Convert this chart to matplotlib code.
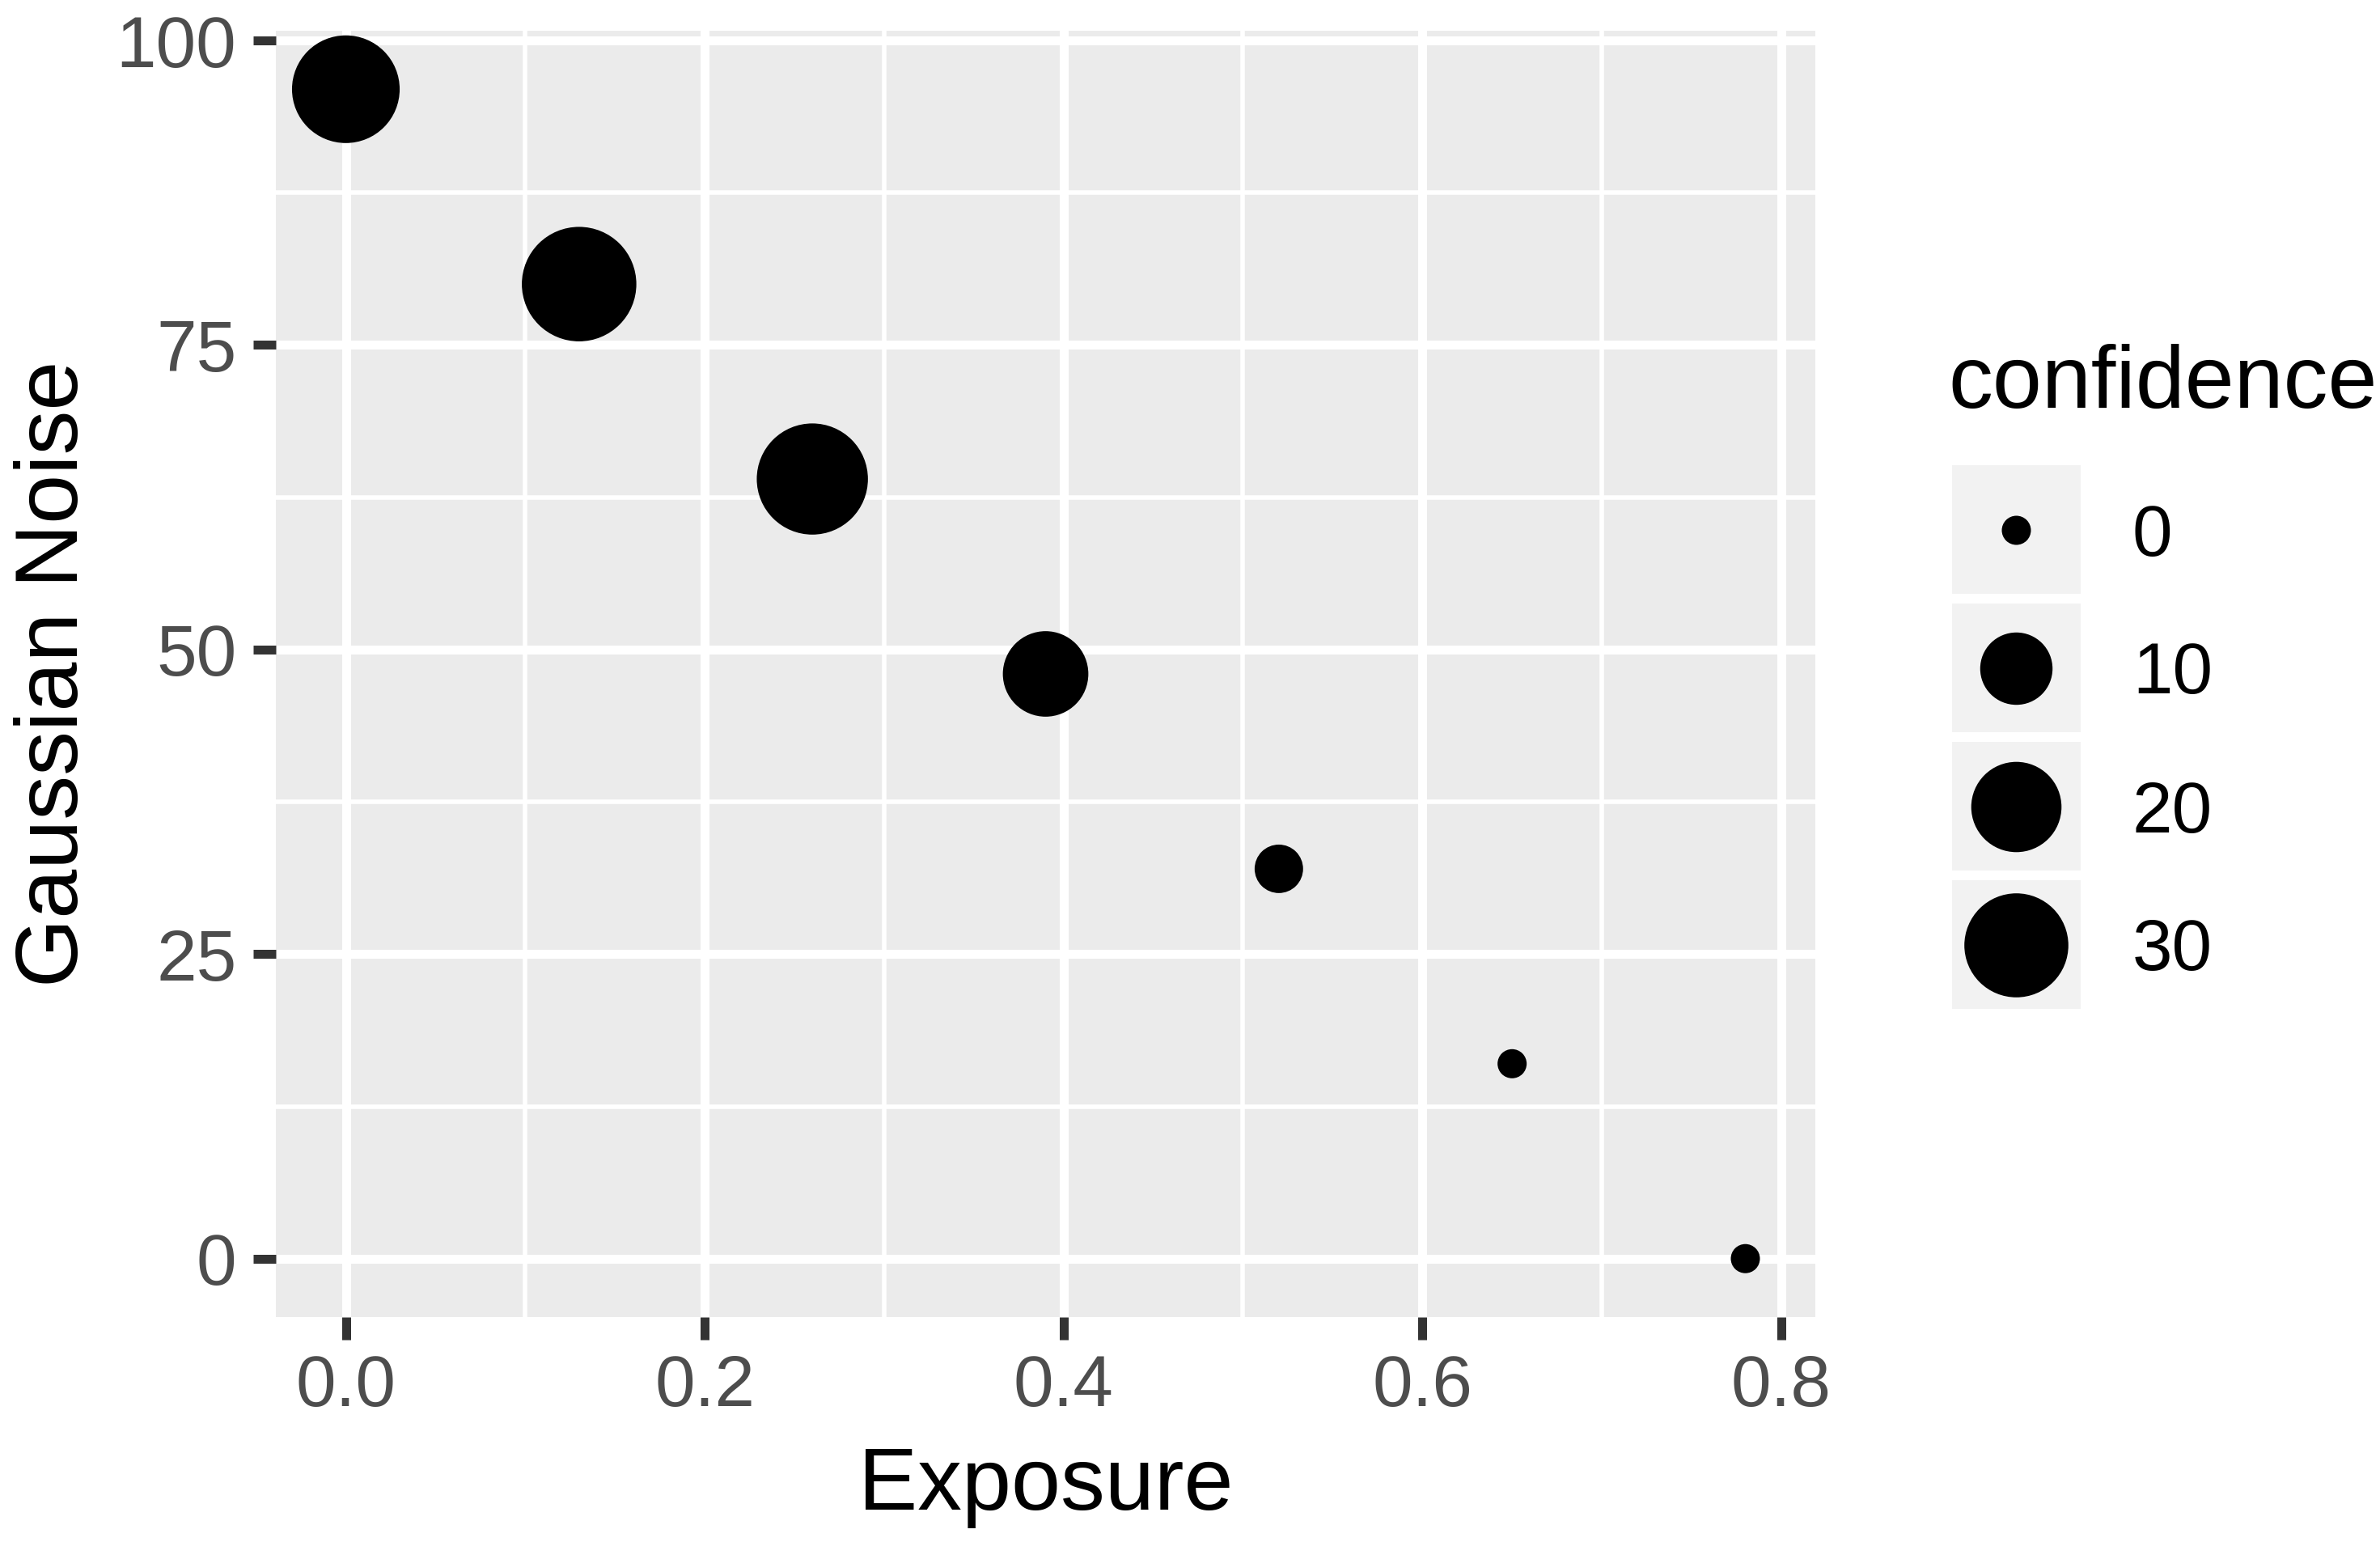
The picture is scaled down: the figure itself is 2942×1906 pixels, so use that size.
import numpy as np
import matplotlib
matplotlib.use("Agg")
import matplotlib.pyplot as plt
from matplotlib.patches import Rectangle

plt.rcParams['font.family'] = ['Liberation Sans', 'DejaVu Sans']

# data
exposure = [0.0, 0.13, 0.26, 0.39, 0.52, 0.65, 0.78]
noise = [96, 80, 64, 48, 32, 16, 0]
confidence = [33, 39, 36, 17, 2, 0, 0]
legend_breaks = [0, 10, 20, 30]
x_ticks = [0.0, 0.2, 0.4, 0.6, 0.8]
y_ticks = [0, 25, 50, 75, 100]

W, H, DPI = 2942, 1906, 300
PANEL = "#EBEBEB"
KEY_BG = "#F2F2F2"
TICK_C = "#333333"
LABEL_C = "#4D4D4D"
major_lw = 2.64
minor_lw = 1.32
title_fs = 26.3
label_fs = 21.4

def size_of(v):
    # ggplot-like area scale: diameter grows with sqrt(value); returns scatter s (pt^2)
    d_px = 36 + 16.9 * np.sqrt(np.asarray(v, dtype=float))
    d_pt = d_px * 72 / DPI
    return d_pt ** 2

fig = plt.figure(figsize=(W / DPI, H / DPI), dpi=DPI)
fig.patch.set_facecolor("white")

# panel in pixel coords
left, right, top, bottom = 341, 2244, 38, 1628
ax = fig.add_axes([left / W, 1 - bottom / H, (right - left) / W, (bottom - top) / H])
ax.set_facecolor(PANEL)
for s in ax.spines.values():
    s.set_visible(False)

xr = max(exposure) - min(exposure)
yr = max(noise) - min(noise)
ax.set_xlim(min(exposure) - 0.05 * xr, max(exposure) + 0.05 * xr)
ax.set_ylim(min(noise) - 0.05 * yr, max(noise) + 0.05 * yr)

ax.set_xticks(x_ticks)
ax.set_xticklabels(["%.1f" % t for t in x_ticks])
ax.set_yticks(y_ticks)
ax.set_yticklabels([str(t) for t in y_ticks])
ax.set_xticks([0.1, 0.3, 0.5, 0.7], minor=True)
ax.set_yticks([12.5, 37.5, 62.5, 87.5], minor=True)

ax.grid(which="major", color="white", linewidth=major_lw)
ax.grid(which="minor", color="white", linewidth=minor_lw)
ax.set_axisbelow(True)
ax.tick_params(which="major", length=6.7, width=major_lw, color=TICK_C,
               labelsize=label_fs, labelcolor=LABEL_C)
ax.tick_params(axis="x", which="major", pad=4)
ax.tick_params(axis="y", which="major", pad=5)
ax.tick_params(which="minor", length=0)

ax.scatter(exposure, noise, s=size_of(confidence), color="black",
           linewidths=0, zorder=3, clip_on=False)

# overlay axes in pixel coords for titles and legend
ov = fig.add_axes([0, 0, 1, 1])
ov.set_xlim(0, W)
ov.set_ylim(H, 0)
ov.axis("off")
ov.patch.set_alpha(0)

ov.text(1293, 1866, "Exposure", fontsize=title_fs, ha="center", va="baseline")
ov.text(96, 833, "Gaussian Noise", fontsize=title_fs, ha="center", va="baseline",
        rotation=90, rotation_mode="anchor")

# legend
ov.text(2408, 504, "confidence", fontsize=title_fs, ha="left", va="baseline")
key_x, key_y, key_sz, key_gap = 2413, 575, 159, 12
for i, b in enumerate(legend_breaks):
    ky = key_y + i * (key_sz + key_gap)
    ov.add_patch(Rectangle((key_x, ky), key_sz, key_sz, facecolor=KEY_BG,
                           edgecolor="none"))
    ov.scatter([key_x + key_sz / 2], [ky + key_sz / 2], s=size_of([b]),
               color="black", linewidths=0)
    ov.text(2636, ky + key_sz / 2 + 32, str(b), fontsize=label_fs, ha="left",
            va="baseline")

fig.savefig("out.png", dpi=DPI)
